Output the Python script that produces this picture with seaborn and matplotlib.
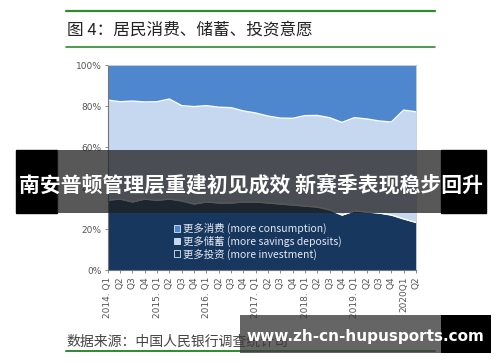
import numpy as np
import pandas as pd
import matplotlib
matplotlib.use("Agg")
import matplotlib.pyplot as plt
from matplotlib.patches import Patch, Rectangle
import seaborn as sns

quarters = ["2014. Q1", "Q2", "Q3", "Q4", "2015. Q1", "Q2", "Q3", "Q4",
            "2016. Q1", "Q2", "Q3", "Q4", "2017. Q1", "Q2", "Q3", "Q4",
            "2018. Q1", "Q2", "Q3", "Q4", "2019. Q1", "Q2", "Q3", "Q4",
            "2020Q1", "Q2"]
consumption = [17.1, 17.9, 17.6, 18.0, 17.9, 16.6, 19.8, 20.3, 19.8, 20.6, 20.8, 22.4, 23.4,
               24.9, 25.9, 26.0, 24.7, 24.6, 25.7, 28.0, 25.7, 26.3, 27.3, 27.8, 22.0, 22.8]
investment = [34.1, 34.6, 33.2, 34.6, 34.0, 34.6, 33.7, 32.2, 33.2, 32.7, 32.7, 33.2, 33.2,
              32.7, 32.2, 31.7, 31.2, 30.7, 29.3, 26.8, 28.8, 28.3, 27.8, 26.8, 24.9, 23.2]
savings = [100 - c - i for c, i in zip(consumption, investment)]
legend_labels = ["更多消费 (more consumption)", "更多储蓄 (more savings deposits)",
                 "更多投资 (more investment)"]
title_text = "图 4：居民消费、储蓄、投资意愿"
source_text = "数据来源：中国人民银行调查统计司"
banner_text = "南安普顿管理层重建初见成效 新赛季表现稳步回升"
watermark_text = "www.zh-cn-hupusports.com"

sns.set_theme(style="white")
plt.rcParams["font.family"] = ["Noto Sans CJK SC", "DejaVu Sans"]

c_cons = "#4f87cf"
c_sav = "#c6d8ef"
c_inv = "#17375e"

df = pd.DataFrame({"x": np.arange(len(quarters)),
                   "inv": investment,
                   "sav_top": np.array(investment) + np.array(savings),
                   "top": 100.0})

fig = plt.figure(figsize=(5, 3.62), dpi=100)
ax = fig.add_axes([0.2154, 0.2541, 0.6166, 0.5663])

ax.fill_between(df["x"], 0, df["inv"], color=c_inv, lw=0)
ax.fill_between(df["x"], df["inv"], df["sav_top"], color=c_sav, lw=0)
ax.fill_between(df["x"], df["sav_top"], df["top"], color=c_cons, lw=0)
sns.lineplot(data=df, x="x", y="inv", ax=ax, color="white", lw=1.0, legend=False)
sns.lineplot(data=df, x="x", y="sav_top", ax=ax, color="white", lw=1.0, legend=False)

ax.set_xlim(0, len(quarters) - 1)
ax.set_ylim(0, 100)
ax.set_yticks(range(0, 101, 20))
ax.set_yticklabels([f"{v}%" for v in range(0, 101, 20)], fontsize=6.5, color="#555555",
                   family="DejaVu Sans")
ax.set_xticks(df["x"])
ax.set_xticklabels(quarters, rotation=90, fontsize=6.5, color="#555555", family="DejaVu Sans")
ax.set_xlabel("")
ax.set_ylabel("")
ax.tick_params(axis="both", length=2.5, width=0.6, color="#777777", pad=2, left=True, bottom=True)
for s in ["left", "bottom"]:
    ax.spines[s].set_color("#777777")
    ax.spines[s].set_linewidth(0.8)
for s in ["top", "right"]:
    ax.spines[s].set_color("#cccccc")
    ax.spines[s].set_linewidth(0.6)

handles = [Patch(facecolor=c_cons, edgecolor="#dde6f2", lw=0.6),
           Patch(facecolor=c_sav, edgecolor="#dde6f2", lw=0.6),
           Patch(facecolor=c_inv, edgecolor="#dde6f2", lw=0.6)]
leg = ax.legend(handles, legend_labels, loc="center left", bbox_to_anchor=(0.185, 0.14),
                frameon=False, fontsize=7.5, handlelength=0.6, handleheight=0.6,
                handletextpad=0.3, labelspacing=0.15, labelcolor="#e4eaf4")

# header and footer
fig.add_artist(plt.Line2D([66/500, 435/500], [1 - 11/362, 1 - 11/362], color="#2e8b2e", lw=1.6))
fig.add_artist(plt.Line2D([66/500, 435/500], [1 - 47/362, 1 - 47/362], color="#2e8b2e", lw=1.2))
fig.text(67/500, 1 - 30/362, title_text, fontsize=12, color="#222222", va="center", ha="left")
fig.text(66/500, 1 - 342/362, source_text, fontsize=10, color="#444444", va="center", ha="left")
fig.add_artist(plt.Line2D([66/500, 435/500], [1 - 351/362, 1 - 351/362], color="#2e8b2e", lw=1.4))

# banner overlay
fig.add_artist(Rectangle((16/500, 1 - 213/362), (57 - 16)/500, 63/362, transform=fig.transFigure,
                         color="black", zorder=10))
fig.add_artist(Rectangle((441/500, 1 - 213/362), (486 - 441)/500, 63/362, transform=fig.transFigure,
                         color="black", zorder=10))
fig.add_artist(Rectangle((57/500, 1 - 213/362), (441 - 57)/500, 63/362, transform=fig.transFigure,
                         color="#202020", alpha=0.75, lw=0, zorder=10))
fig.text(251/500, 1 - 185/362, banner_text, fontsize=15, fontweight="bold", color="white",
         ha="center", va="center", zorder=11)

# watermark
fig.add_artist(Rectangle((240/500, 1 - 353/362), (441 - 240)/500, 38/362, transform=fig.transFigure,
                         color="#3a3a3a", alpha=0.78, lw=0, zorder=10))
fig.add_artist(Rectangle((441/500, 1 - 353/362), (491 - 441)/500, 38/362, transform=fig.transFigure,
                         color="black", lw=0, zorder=10))
fig.text(365/500, 1 - 336/362, watermark_text, fontsize=11, fontweight="bold", color="white",
         ha="center", va="center", family="DejaVu Sans", zorder=11)

fig.savefig("out.png", dpi=100)
